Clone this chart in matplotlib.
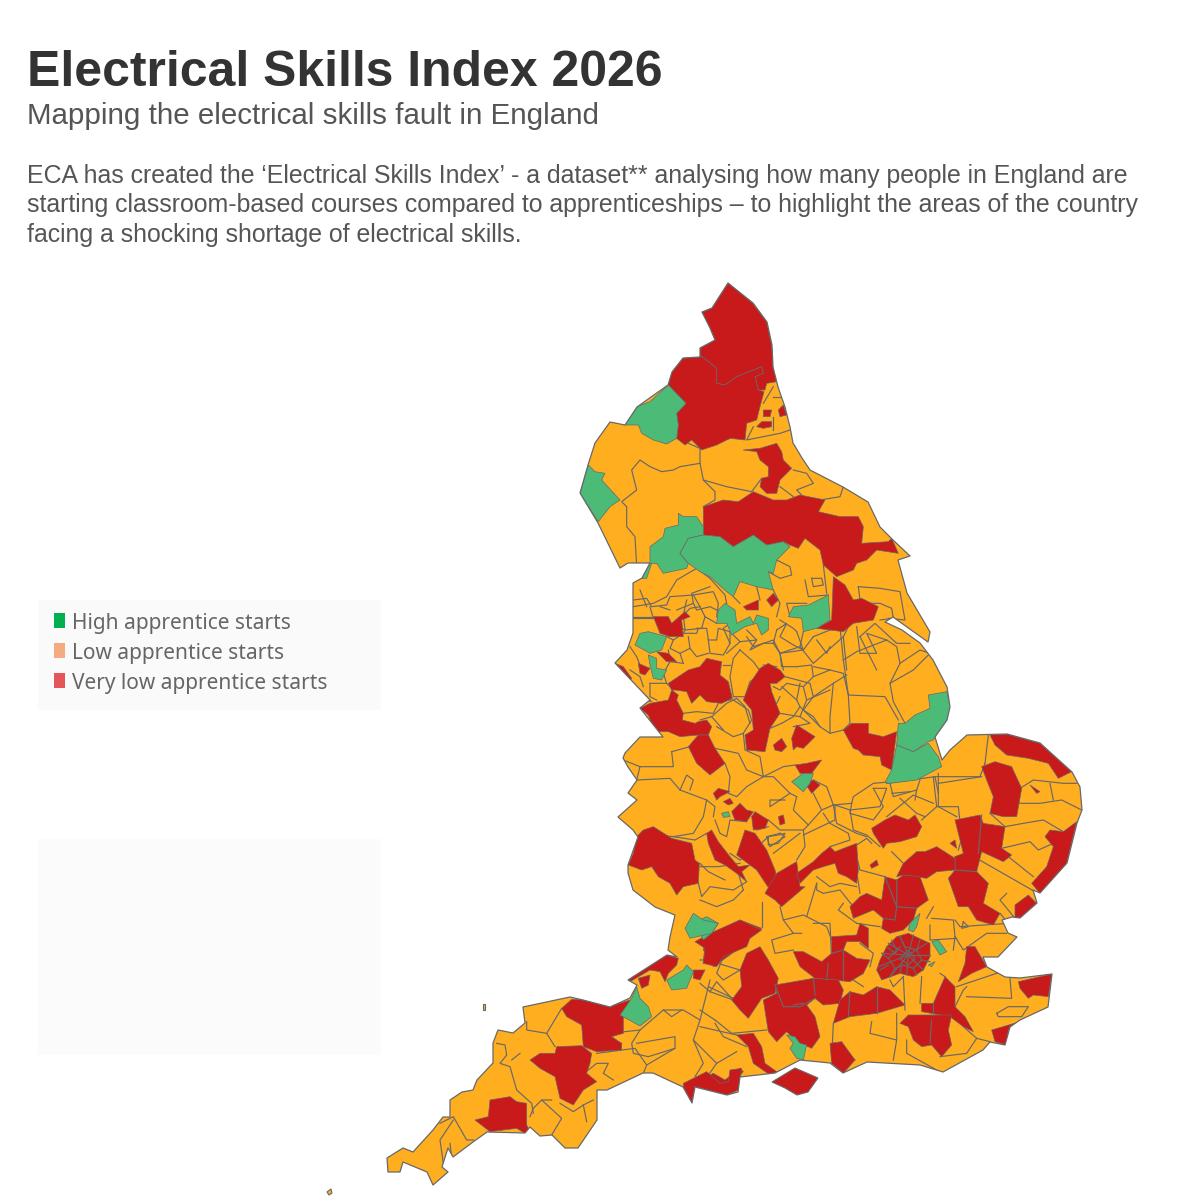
import matplotlib
matplotlib.use("Agg")
import matplotlib.pyplot as plt
from matplotlib.patches import Polygon, Rectangle

TITLE = "Electrical Skills Index 2026"
SUBTITLE = "Mapping the electrical skills fault in England"
BODY = ["ECA has created the ‘Electrical Skills Index’ - a dataset** analysing how many people in England are",
        "starting classroom-based courses compared to apprenticeships – to highlight the areas of the country",
        "facing a shocking shortage of electrical skills."]
LEGEND_LABELS = ["High apprentice starts", "Low apprentice starts", "Very low apprentice starts"]
LEGEND_COLORS = ["#00B050", "#F4AB82", "#E5565B"]
ORANGE, RED, GREEN, EDGE = "#FFAE20", "#C8191B", "#4BBB77", "#686868"

ENGLAND = [(728,283),(753,303),(767,322),(772,345),(773,367),(778,387),(785,407),(790,427),(793,443),(802,458),(810,470),(843,487),(868,502),(880,527),(893,540),(910,556),(898,560),(907,593),(930,632),(928,642),(893,617),(885,622),(902,630),(920,643),(933,660),(947,687),(950,707),(947,720),(935,737),(942,760),(950,750),(967,735),(1007,734),(1040,743),(1072,772),(1080,787),(1082,810),(1077,823),(1067,863),(1040,893),(1033,890),(1037,903),(1020,918),(1012,917),(1002,920),(1008,933),(1017,937),(998,957),(983,957),(987,967),(1005,977),(1020,978),(1052,974),(1048,1007),(1020,1020),(1010,1027),(1005,1045),(990,1042),(983,1050),(943,1072),(920,1065),(867,1062),(843,1073),(830,1063),(800,1060),(775,1073),(740,1077),(738,1092),(727,1095),(695,1087),(692,1103),(683,1087),(653,1073),(643,1073),(607,1090),(597,1090),(597,1120),(578,1148),(565,1148),(552,1135),(540,1136),(530,1127),(525,1133),(487,1132),(473,1142),(453,1157),(448,1148),(442,1167),(448,1172),(433,1185),(427,1172),(403,1162),(400,1172),(388,1172),(387,1158),(403,1148),(413,1152),(433,1130),(443,1117),(450,1117),(450,1100),(462,1092),(473,1090),(477,1080),(493,1063),(493,1043),(498,1030),(513,1033),(525,1023),(523,1007),(570,997),(583,1000),(610,1007),(630,998),(637,985),(628,980),(667,955),(677,957),(668,950),(670,937),(675,915),(655,907),(633,890),(628,873),(628,865),(638,837),(633,830),(618,817),(637,800),(628,793),(637,780),(628,767),(623,758),(625,753),(640,737),(663,737),(640,708),(650,700),(615,663),(627,650),(633,633),(633,583),(642,578),(650,563),(628,563),(620,568),(598,523),(580,493),(588,465),(595,443),(610,422),(625,425),(637,407),(668,385),(672,372),(683,358),(700,357),(700,348),(715,340),(710,328),(702,312),(712,308)]
WIGHT = [(772,1082),(795,1068),(818,1078),(808,1092),(797,1095),(785,1088)]
LUNDY = [(483,1004),(485,1004),(485,1010),(483,1010)]
SCILLY = [(327,1192),(331,1189),(332,1193),(329,1195)]

# Outlines, each group with its own local origin
RED_N = [
[(505,38),(578,100),(620,155),(635,225),(640,290),(650,335),(620,340),(615,360),(595,360),(585,320),(610,310),(605,290),(530,320),(495,345),(470,340),(470,295),(420,255),(420,235),(465,210),(450,175),(425,125),(455,115)],
[(420,255),(470,295),(470,340),(495,345),(530,320),(605,290),(610,310),(585,320),(595,360),(612,365),(600,410),(590,450),(560,460),(555,510),(510,505),(470,525),(425,540),(395,510),(375,525),(350,505),(355,465),(350,430),(378,400),(325,345),(335,305),(370,265)],
[(430,710),(490,690),(535,695),(580,665),(640,690),(680,690),(720,675),(795,690),(775,725),(840,740),(895,740),(910,770),(905,820),(985,815),(995,805),(1015,850),(950,840),(920,870),(890,880),(880,900),(830,920),(790,885),(780,840),(735,805),(715,835),(690,825),(670,815),(620,825),(580,795),(520,830),(480,800),(430,795)],
[(550,540),(600,535),(650,520),(665,545),(670,570),(695,595),(660,630),(650,670),(620,670),(600,650),(605,625),(625,620),(625,590),(600,570),(590,545)],
[(820,920),(855,945),(880,990),(905,985),(955,1010),(940,1050),(880,1060),(850,1085),(770,1075),(815,1050)],
[(550,1010),(595,990),(595,1020),(560,1020)],
[(620,990),(640,970),(655,990),(635,1010)],
[(280,1040),(325,1040),(335,1060),(375,1025),(390,1040),(365,1050),(370,1100),(330,1100),(300,1090)],
[(610,420),(635,420),(630,440),(610,440)],
[(655,420),(670,405),(680,435),(660,440)],
[(590,470),(605,455),(635,455),(635,470),(610,475)],
]
GREEN_N = [
[(325,345),(378,400),(350,430),(355,465),(350,505),(320,522),(280,510),(245,490),(235,465),(195,465),(230,410),(270,395)],
[(85,585),(105,605),(135,610),(125,630),(180,690),(150,710),(115,755),(60,670)],
[(355,730),(370,740),(410,740),(430,770),(430,795),(385,805),(360,850),(385,880),(380,895),(310,910),(290,880),(275,880),(260,925),(245,925),(270,880),(270,830),(310,800),(315,775),(355,765)],
[(385,805),(430,795),(480,800),(520,830),(580,795),(620,825),(670,815),(690,830),(650,870),(640,910),(625,905),(640,960),(590,950),(540,935),(520,980),(500,965),(450,920),(420,905),(385,880),(360,850)],
[(745,1005),(805,975),(810,1050),(770,1075),(730,1085),(725,1045),(685,1040),(700,1010)],
[(495,1000),(525,1020),(530,1060),(570,1040),(580,1060),(590,1035),(625,1045),(625,1080),(605,1095),(590,1060),(555,1070),(515,1095),(500,1060),(470,1060),(475,1020)],
[(240,1090),(265,1085),(320,1100),(305,1140),(270,1150),(225,1125)],
]
LINES_N = [
[(350,505),(420,535),(420,580),(360,590),(340,600),(305,605),(270,590),(240,570),(215,600),(230,660),(185,695),(200,710),(200,770),(225,800),(230,890)],
[(420,535),(510,505)],[(420,580),(430,630),(465,665),(465,690),(430,710)],
[(430,630),(500,650),(575,665),(605,625)],
[(780,700),(775,725),(770,755),(745,735),(680,770),(670,790),(650,770),(620,750),(600,785)],
[(650,870),(690,890),(695,915),(660,925),(625,905)],[(735,930),(745,980),(805,975)],[(790,885),(800,970)],
[(755,925),(785,925),(790,945),(760,950),(755,925)],
[(895,950),(960,955),(1020,965),(1035,1050),(985,1045)],[(900,990),(895,950)],
[(220,1010),(280,1000),(320,980),(350,930),(410,895),(450,925),(495,975),(500,1000)],
[(220,1040),(280,1040)],[(240,960),(260,1010)],[(350,1020),(400,1000),(410,1020),(450,1010),(470,1020)],
[(400,1000),(395,970),(450,950)],[(300,1010),(330,1020)],
[(560,1100),(580,1130),(640,1110),(660,1150),(720,1130),(730,1085)],
[(660,1150),(670,1200)],[(720,1130),(760,1180),(850,1100),(870,1060)],[(850,1100),(860,1200)],
[(900,1000),(960,1000),(995,1015),(1000,1045),(960,1050)],[(900,1100),(945,1060),(1010,1120),(1050,1120)],
[(900,1100),(950,1200)],[(540,1000),(520,980)],[(650,1040),(660,1000),(640,960)],[(590,950),(600,990)],
[(690,1040),(680,1000),(740,1000)],[(610,400),(640,350)],[(640,380),(690,380)],[(580,470),(560,510),(610,500),(660,490),(690,480)],
[(640,440),(640,480)],[(700,600),(740,610),(760,640),(710,660),(730,680)],[(660,650),(700,680)],
[(780,690),(840,680),(850,650)],
]

RED_M = [
[(170,95),(205,100),(230,125),(200,125)],
[(45,130),(70,140),(95,175),(85,190),(125,215),(155,245),(130,240),(85,200),(55,170)],
[(115,130),(150,145),(135,165),(120,160)],
[(205,190),(265,150),(300,140),(320,115),(365,125),(360,165),(385,185),(397,235),(365,250),(320,245),(300,225),(275,250),(260,215),(225,210),(215,210)],
[(120,265),(150,250),(205,240),(215,210),(235,225),(230,240),(250,280),(247,300),(285,310),(295,305),(320,300),(335,320),(325,345),(295,345),(240,350),(205,335),(165,335),(145,285)],
[(295,345),(325,345),(345,385),(375,430),(330,465),(290,430),(265,380)],
[(480,145),(505,130),(540,150),(555,170),(530,190),(510,190),(515,215),(540,280),(510,325),(495,395),(440,390),(435,345),(460,330),(455,270),(430,240),(450,190)],
[(520,375),(545,355),(560,380),(545,395),(525,390)],
[(575,355),(590,315),(645,350),(610,385),(590,380),(580,390)],
[(730,330),(755,310),(805,310),(805,340),(850,350),(890,335),(875,450),(845,435),(840,410),(790,405),(775,390),(760,385)],
[(585,435),(620,430),(665,420),(635,460),(600,460)],
[(615,490),(640,480),(660,495),(635,520)],
[(340,520),(355,505),(390,515),(360,530),(350,540)],
[(370,545),(390,535),(400,550),(385,555)],
[(395,575),(420,550),(440,570),(460,575),(440,605),(405,600)],
[(455,590),(465,575),(505,600),(495,625),(460,630)],
[(535,590),(550,585),(555,610),(540,615)],
[(110,650),(130,630),(160,620),(215,655),(275,670),(285,720),(298,730),(295,790),(250,800),(230,825),(210,790),(175,770),(155,740),(125,750),(85,735),(100,700)],
[(320,640),(335,630),(355,665),(390,710),(415,740),(450,735),(425,755),(440,785),(410,760),(375,735),(345,720),(325,670)],
[(410,705),(435,630),(465,640),(500,690),(525,750),(530,770),(510,810),(470,750),(430,720)],
[(495,820),(530,760),(590,725),(600,800),(615,800),(545,860),(525,840)],
[(590,760),(640,725),(665,700),(690,680),(705,695),(770,670),(775,750),(770,790),(740,770),(715,760),(705,730),(670,740),(640,750),(600,790)],
[(815,625),(855,600),(885,585),(925,600),(945,585),(965,620),(950,650),(900,665),(860,670),(850,685),(820,640)],
]
GREEN_M = [
[(145,105),(170,115),(170,145),(200,150),(185,180),(160,175),(150,135)],
[(575,485),(610,460),(640,460),(630,490),(610,515)],
[(985,225),(1040,215),(1052,260),(1045,300),(1000,360),(985,365),(940,395),(890,375),(895,310),(915,310),(945,285),(990,265)],
[(890,375),(940,395),(985,370),(1015,410),(1025,440),(950,480),(870,490),(855,487),(875,450)],
[(365,580),(385,575),(390,590),(370,592)],
]
LINES_M = [
[(730,120),(770,95),(860,60),(890,80),(900,130),(870,190),(880,245),(915,310)],
[(730,120),(745,225),(855,230),(895,300)],[(870,190),(940,150),(990,100),(960,90),(900,130)],
[(770,20),(780,100),(830,100),(800,40),(860,60)],[(720,20),(730,120)],
[(640,140),(690,150),(730,160),(745,225),(750,310),(730,330),(690,340),(660,320),(630,290),(600,260),(580,290),(545,310)],
[(555,170),(630,190),(640,230),(700,190),(740,165)],[(700,190),(690,290),(690,340)],
[(640,230),(610,270),(640,290),(660,320)],[(330,240),(400,240),(445,270),(455,300),(430,340),(400,350),(350,320)],
[(250,280),(290,275),(340,280),(355,250)],[(430,340),(435,390),(480,410),(490,470),(440,450),(415,400),(345,385)],
[(215,395),(270,380)],[(215,395),(220,440),(120,440),(70,420)],
[(120,440),(110,480),(210,475),(240,510),(320,540),(310,590),(280,640),(220,650),(130,640)],
[(240,510),(260,465),(280,480),(270,510)],[(320,540),(345,560),(340,590)],
[(375,430),(390,470),(385,520),(410,530),(440,500),(490,470),(550,440),(585,435)],
[(490,470),(520,470),(570,520),(590,530)],[(570,520),(510,560),(510,540),(555,540)],
[(590,530),(580,570),(625,615),(665,570),(640,520)],[(665,570),(700,555),(680,500),(640,480)],
[(700,555),(755,550),(760,530),(820,490),(855,487)],[(755,550),(750,580),(820,600),(850,560),(820,505)],
[(700,555),(710,610),(760,635),(770,640),(800,650)],[(625,615),(610,630),(540,630),(505,600)],
[(610,630),(615,680),(590,720)],[(540,640),(555,650),(510,680),(500,650),(540,640)],
[(670,580),(690,610),(745,640),(750,660),(690,680)],[(870,490),(880,530),(950,510),(960,480)],
[(900,535),(950,580),(975,590)],[(950,510),(945,540)],
[(1000,470),(1010,560),(1075,560),(1085,655),(1075,690)],[(1010,560),(965,600)],
[(1015,490),(1145,470)],[(295,790),(305,830),(330,800),(400,810),(440,785)],
[(220,650),(285,660),(320,640)],[(345,600),(360,640),(380,650),(390,600),(440,605)],
[(470,630),(505,620)],[(300,730),(325,755),(375,780)],[(650,770),(690,800),(720,790),(770,800)],
[(600,190),(590,240),(600,260)],[(510,325),(545,310)],[(545,200),(590,240)],
]
LINES_NW = [
[(10,30),(50,25),(65,50),(110,45),(120,20),(190,15)],[(0,85),(70,85)],[(60,50),(70,85)],
[(160,75),(180,55),(210,50),(225,80),(215,115),(165,120),(160,75)],[(210,50),(190,15),(250,5),(265,40),(260,80)],[(225,80),(260,100)],
[(110,140),(130,150),(160,130),(200,130),(205,115)],[(165,120),(160,130)],
[(130,150),(120,175),(150,190),(180,175),(175,140)],[(180,175),(200,200),(235,190)],[(150,190),(160,220)],
[(200,115),(230,115),(235,150),(260,150),(265,115),(300,125)],[(235,150),(240,190),(280,195),(300,160),(300,125)],
[(300,125),(330,155),(290,190)],[(330,155),(380,150),(350,120)],
[(380,150),(360,180),(400,160),(430,160),(450,190),(455,230),(500,230)],
[(330,180),(370,215),(395,250),(360,275),(345,320),(310,320),(300,260),(310,205),(330,180)],
[(450,190),(520,180),(550,140)],[(500,125),(520,180)],[(400,225),(440,230)],
[(500,230),(545,225),(550,260),(520,290),(470,280),(450,300),(430,290)],
[(550,140),(600,120)],[(550,260),(600,240)],[(520,290),(530,330),(510,380),(450,370)],[(530,330),(600,300)],[(510,380),(540,400),(490,410)],
[(440,120),(470,100),(450,140),(490,165),(520,180)],[(160,220),(120,215),(100,250),(110,280)],[(120,215),(115,180)],
[(60,280),(110,280),(130,300)],[(60,280),(60,320),(80,330)],[(0,170),(20,200),(30,225)],[(0,240),(30,260),(40,290)],
[(245,380),(290,340),(320,325),(345,350),(360,400)],[(280,420),(245,380),(210,390)],[(450,320),(440,340)],
[(300,160),(280,115),(300,100)],[(130,100),(165,120)],[(450,90),(490,115),(500,125)],[(430,160),(440,120)],
[(560,150),(590,190),(600,170)],[(260,220),(240,240)],[(280,225),(300,225)],[(170,30),(160,75)],
]

RED_S = [
[(870,45),(920,42),(1020,70),(1115,155),(1075,175),(1045,130),(985,115),(920,105),(885,75)],
[(845,140),(885,125),(935,140),(965,205),(950,290),(910,290),(870,280),(880,230),(860,180)],
[(990,195),(1020,215),(1010,220)],
[(1130,305),(1100,430),(1020,520),(995,490),(1040,440),(1060,380),(1035,350),(1050,330),(1090,335)],
[(765,300),(840,285),(850,310),(915,320),(905,385),(935,405),(910,425),(845,395),(830,455),(865,490),(850,550),(900,580),(880,615),(830,600),(805,560),(775,560),(745,475),(765,450),(765,410),(790,400),(780,360)],
[(610,430),(650,395),(675,395),(710,380),(765,415),(765,450),(710,455),(680,475),(610,465),(590,470)],
[(750,370),(765,360),(770,385)],
[(945,555),(985,525),(1010,550),(975,590),(945,595)],
[(510,435),(530,420),(535,435),(515,445)],
[(555,470),(590,480),(610,465),(660,470),(685,540),(650,565),(640,600),(610,630),(570,640),(545,625),(550,595),(520,570),(460,595),(450,560),(480,530),(500,520),(545,540),(550,505)],
[(540,720),(560,680),(590,650),(625,640),(690,670),(690,710),(670,750),(640,770),(600,760),(545,780),(530,750)],
[(395,650),(470,645),(480,610),(505,625),(505,685),(480,665),(440,665),(430,690),(470,715),(510,720),(490,760),(450,785),(345,775),(300,740),(280,695),(310,695),(365,725),(395,700)],
[(800,680),(825,680),(860,740),(815,760),(775,785),(795,730)],
[(140,700),(180,680),(205,720),(235,775),(225,820),(185,835),(145,895),(120,870),(95,840),(125,800),(120,750)],
[(225,795),(340,775),(415,780),(430,810),(420,850),(370,855),(345,835),(320,855),(345,890),(360,950),(335,985),(290,965),(260,935),(230,965),(205,935),(190,840),(230,820)],
[(400,910),(420,840),(450,815),(490,825),(530,800),(570,810),(615,855),(530,880),(450,890)],
[(665,850),(700,850),(735,770),(765,800),(765,860),(795,890),(820,935),(790,920),(750,890),(665,875)],
[(600,910),(625,885),(755,885),(745,930),(755,975),(725,1010),(695,975),(665,980),(640,960),(625,920)],
[(390,970),(425,965),(465,1020),(430,1060),(395,1030)],
[(955,785),(1055,762),(1045,830),(1000,825),(985,835),(960,805)],
[(875,930),(960,905),(925,930),(920,975),(885,965)],
[(110,945),(160,940),(185,980),(195,1030),(230,1055),(210,1065),(160,1030),(145,980)],
[(0,1080),(40,1060),(75,1080),(120,1045),(130,1055),(105,1085),(118,1105),(85,1125),(20,1095)],
[(20,650),(120,600),(185,625),(145,650),(125,680),(40,740),(10,690)],
]
GREEN_S = [
[(630,610),(660,580),(650,620),(640,635),(625,630)],
[(695,665),(715,660),(740,695),(720,705)],
[(685,735),(705,725),(695,740)],
[(260,945),(285,950),(300,970),(320,975),(310,1020),(290,1015),(270,985),(280,970)],
[(0,600),(20,590),(55,610),(35,640),(10,660),(0,640)],
]
LINES_S = [
[(865,45),(855,130)],[(705,170),(840,170),(855,130)],[(715,160),(715,260),(770,290)],
[(960,205),(1000,180),(1090,190),(1130,190)],[(960,250),(1020,250),(1085,240),(1145,270)],[(1050,190),(1060,240)],
[(915,320),(970,310),(1030,300),(1090,335)],[(905,385),(990,365),(1015,390),(1060,370)],[(925,410),(975,450),(1000,470)],
[(830,415),(1005,515)],[(900,580),(925,610)],[(945,595),(900,540),(920,520)],[(765,600),(780,620),(925,610)],
[(695,595),(760,600),(765,650),(790,690),(860,640),(920,640)],[(680,595),(700,560)],[(690,615),(690,660),(770,655)],
[(765,650),(760,690)],[(790,605),(805,620),(785,625),(790,605)],[(470,410),(480,450),(555,470)],[(480,520),(470,455)],
[(575,395),(610,430)],[(470,375),(500,355),(515,370)],[(450,270),(540,260),(560,205),(520,205)],
[(405,255),(450,270),(460,330),(500,345),(540,380)],[(560,190),(705,170),(715,220)],[(560,290),(640,225),(700,250)],
[(630,215),(575,220)],[(310,345),(405,300),(405,255)],[(220,400),(300,340)],
[(350,490),(350,510),(370,520),(420,510),(460,560)],[(350,490),(320,590),(310,585),(250,600)],
[(320,590),(380,620),(395,660)],[(240,560),(250,600),(280,640),(305,640)],[(280,640),(215,660),(225,700),(280,690)],
[(340,610),(390,610),(395,720)],[(430,550),(415,570),(470,610)],[(185,545),(185,620)],
[(30,815),(50,785),(95,835)],[(30,815),(100,840)],[(30,815),(0,790)],[(45,900),(95,940),(200,930)],[(0,870),(45,900)],
[(120,750),(20,720),(0,720)],[(0,920),(110,945)],[(400,910),(395,1020)],[(400,970),(465,1020)],
[(515,905),(510,940),(590,960),(590,880)],[(590,960),(580,1020)],[(620,960),(620,1000),(710,1050)],
[(720,1010),(800,1000),(830,955),(790,920)],[(830,955),(870,965)],[(765,860),(790,810),(800,800)],
[(770,800),(905,755)],[(800,830),(935,835),(930,775)],[(890,880),(925,860),(985,860),(965,890),(895,890),(890,880)],
[(610,770),(615,870)],[(665,770),(660,850)],[(420,780),(445,770),(490,800)],[(610,770),(580,800),(570,780)],
[(720,760),(735,770)],[(510,740),(520,700),(480,670)],[(450,780),(490,760)],
[(205,350),(235,345),(255,340),(235,370),(205,375),(205,350)],
[(90,400),(120,420),(150,400),(205,350)],[(0,440),(55,440),(120,430)],[(0,540),(50,560),(100,540),(130,510)],
[(130,510),(115,460)],[(765,410),(840,400)],[(470,610),(540,620)],
]
RED_S_INNER = [
[(225,795),(250,860),(300,860),(345,835)],[(340,775),(345,825)],[(310,850),(280,855)],
[(450,815),(445,890)],[(530,800),(530,880)],[(395,700),(430,690)],[(380,780),(385,730)],[(430,690),(430,780)],
[(835,400),(845,285)],[(765,450),(830,455)],[(555,470),(590,560),(585,600),(550,595)],[(590,480),(590,560),(650,565)],
[(700,850),(700,885)],[(695,900),(690,970)],[(870,280),(915,320)],
]
LONDON = [
[(625,705),(600,650)],[(625,705),(640,645)],[(625,705),(680,670)],[(625,705),(690,705)],[(625,705),(670,750)],
[(625,705),(620,765)],[(625,705),(570,770)],[(625,705),(535,740)],[(625,705),(545,700)],[(625,705),(565,670)],
[(575,660),(590,690),(565,715),(585,745),(610,735),(640,745),(665,720),(650,690),(660,660)],
[(600,650),(615,680),(650,690)],[(545,700),(565,715)],[(585,745),(570,770)],[(640,745),(650,765)],[(665,720),(690,725)],
[(600,715),(625,690),(645,715),(625,735),(600,715)],[(560,680),(585,700),(600,680)],[(540,750),(565,735)],[(600,760),(605,735)],
]
RED_W = [
[(575,325),(605,298),(640,300),(720,320),(780,300),(760,345),(760,400),(725,410),(755,430),(755,450),(680,455),(640,440),(635,375),(590,350)],
[(480,480),(510,460),(555,460),(560,440),(635,437),(665,460),(660,490),(650,520),(680,545),(640,570),(610,615),(570,595),(555,530),(510,505)],
[(360,600),(420,590),(440,605),(470,610),(470,675),(480,695),(465,700),(440,685),(360,695),(315,660),(355,650)],
[(940,550),(1010,515),(1050,550),(1075,545),(1080,510),(1115,505),(1105,570),(1070,585),(975,560),(965,610),(940,560)],
[(775,235),(850,185),(890,165),(925,175),(920,195),(895,220),(885,245),(870,215),(840,210),(780,245)],
[(805,235),(840,225),(835,255),(815,265)],
[(970,210),(1005,210),(990,240),(970,235)],
[(975,125),(1020,100),(1110,60),(1175,90),(1140,115),(1130,140),(1060,170),(1040,200),(1000,190),(1005,145)],
]
GREEN_W = [
[(800,260),(810,295),(835,320),(845,350),(810,378),(750,345),(785,295)],
[(890,240),(940,210),(950,195),(970,215),(950,265),(905,270)],
[(945,85),(970,40),(1000,60),(1045,70),(1025,100),(960,115)],
]
LINES_W = [
[(380,430),(405,435),(410,465),(390,490),(420,500),(440,570),(485,610),(490,640)],
[(470,365),(470,390),(530,400),(555,440)],[(530,400),(575,325)],
[(545,600),(515,600),(490,625),(480,650)],[(515,600),(575,655),(545,705)],[(570,610),(610,635),(640,615),(670,600)],
[(640,615),(650,665)],[(655,510),(680,490),(715,490),(700,520),(730,540)],[(680,460),(795,445),(830,495),(820,520)],
[(720,400),(810,390),(880,330),(940,330),(990,360),(1015,260)],[(810,390),(785,430),(790,460),(835,470),(915,445),(915,410),(800,430)],
[(830,495),(915,445)],[(990,360),(970,420),(1000,490),(975,530)],[(970,420),(1040,490),(1100,455)],
[(1040,490),(1015,525)],[(1035,370),(1060,410),(1130,440)],[(880,330),(905,350),(935,330)],
[(740,450),(755,430)],[(450,460),(425,480)],[(210,670),(250,650),(290,720),(310,720)],[(250,660),(210,720),(220,790)],
[(240,730),(245,770)],[(1020,240),(1015,260),(1090,295)],[(1005,145),(1000,190)],[(1060,170),(1040,220),(1060,240),(1110,210)],
]
GROUPS = [(560,270,RED_N,GREEN_N,LINES_N),(600,620,RED_M,GREEN_M,LINES_M),(700,720,RED_S,GREEN_S,LINES_S),(370,900,RED_W,GREEN_W,LINES_W)]

fig = plt.figure(figsize=(12, 12), dpi=100, facecolor="white")
ax = fig.add_axes([0, 0, 1, 1])
ax.set_xlim(0, 1200)
ax.set_ylim(1200, 0)
ax.axis("off")

ax.add_patch(Rectangle((38, 600), 343, 110, fc="#FAFAFA", ec="none"))
ax.add_patch(Rectangle((38, 839), 343, 216, fc="#FBFBFB", ec="none"))

base = Polygon(ENGLAND, closed=True, fc=ORANGE, ec="none", zorder=1)
ax.add_patch(base)

def shift(pts, ox, oy):
    return [(ox + x / 3, oy + y / 3) for x, y in pts]

def draw_line(pts, z=2):
    xs, ys = zip(*pts)
    ln, = ax.plot(xs, ys, color=EDGE, lw=0.85, zorder=z, solid_joinstyle="round")
    ln.set_clip_path(base)

def draw_poly(pts, color, z):
    p = Polygon(pts, closed=True, fc=color, ec=EDGE, lw=0.5, zorder=z, joinstyle="round")
    ax.add_patch(p)
    p.set_clip_path(base)

for ox, oy, reds, greens, lines in GROUPS:
    for l in lines:
        draw_line(shift(l, ox, oy))
for l in LINES_NW:
    draw_line(shift(l, 630, 590))
for ox, oy, reds, greens, lines in GROUPS:
    for p in reds:
        draw_poly(shift(p, ox, oy), RED, 3)
    for p in greens:
        draw_poly(shift(p, ox, oy), GREEN, 4)
for l in LONDON + RED_S_INNER:
    draw_line(shift(l, 700, 720), 5)

ax.add_patch(Polygon(ENGLAND, closed=True, fc="none", ec=EDGE, lw=0.9, zorder=6, joinstyle="round"))
ax.add_patch(Polygon(WIGHT, closed=True, fc=RED, ec=EDGE, lw=0.8, zorder=6))
ax.add_patch(Polygon(LUNDY, closed=True, fc=ORANGE, ec=EDGE, lw=0.8, zorder=6))
ax.add_patch(Polygon(SCILLY, closed=True, fc=ORANGE, ec=EDGE, lw=0.8, zorder=6))

ax.text(27, 73, TITLE, family="Liberation Sans", weight="bold", fontsize=35.9, color="#333333", va="center", ha="left")
ax.text(27, 116, SUBTITLE, family="Liberation Sans", fontsize=21.25, color="#555555", va="center", ha="left")
for y, line in zip([176, 205, 235], BODY):
    ax.text(27, y, line, family="Liberation Sans", fontsize=17.9, color="#555555", va="center", ha="left")

for y, label, col in zip([621, 651, 681], LEGEND_LABELS, LEGEND_COLORS):
    ax.add_patch(Rectangle((54, y - 8), 11, 15, fc=col, ec="none"))
    ax.text(72, y + 2, label, family="Noto Sans", fontsize=15.05, color="#666666", va="center", ha="left")

fig.savefig("out.png", dpi=100, facecolor="white")
